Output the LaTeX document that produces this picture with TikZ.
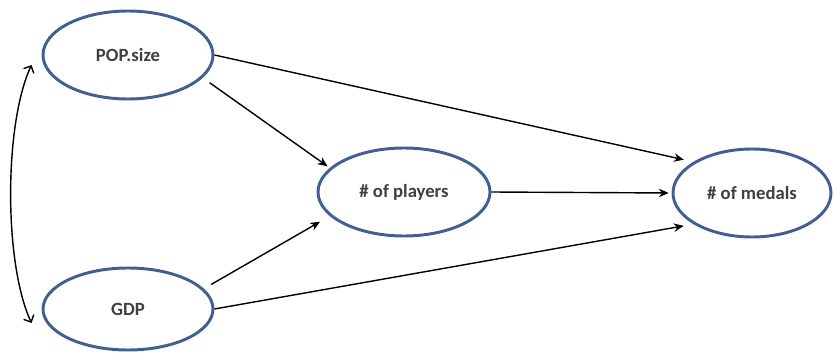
\documentclass[tikz,border=0pt]{standalone}
\usepackage{fontspec}
\setmainfont{Carlito}
\usetikzlibrary{arrows.meta,shapes.geometric}

\definecolor{ovalblue}{RGB}{65,95,145}
\definecolor{txtgray}{RGB}{64,64,64}

\begin{document}
\begin{tikzpicture}[
    var/.style={ellipse, draw=ovalblue, line width=2.1pt, fill=white, minimum width=4.25cm, minimum height=2.2cm, align=center, font=\fontsize{13.3}{16}\selectfont\bfseries, text=txtgray},
    arr/.style={-{Stealth[length=7pt,width=6pt]}, line width=1pt, shorten >=2pt},
    corr/.style={{Straight Barb[length=4pt,width=8pt]}-{Straight Barb[length=4pt,width=8pt]}, line width=1pt}
]
\useasboundingbox (0,0) rectangle (20.85,8.975);

\node[var] (pop) at (3.2,7.6) {POP.size};
\node[var, minimum height=2.05cm] (gdp) at (3.2,1.25) {GDP};
\node[var, minimum width=4.3cm] (players) at (10.1,4.175) {\# of players};
\node[var, minimum width=3.95cm] (medals) at (18.8,4.15) {\# of medals};

\draw[arr, shorten >=7pt] (pop.east) -- (medals.152);
\draw[arr, shorten <=6pt] (pop.-17) -- (players.162);
\draw[arr, shorten <=6pt, shorten >=8pt] (gdp.15) -- (players.198);
\draw[arr, shorten >=7pt] (gdp.east) -- (medals.208);
\draw[arr] (players.east) -- (medals.west);

% correlation between the two exogenous variables
\coordinate (ctop) at ([shift={(-0.25,-0.25)}]pop.west);
\coordinate (cbot) at ([shift={(-0.25,-0.35)}]gdp.west);
\draw[corr] (ctop) to[out=245, in=115, looseness=0.65] (cbot);
\end{tikzpicture}
\end{document}
